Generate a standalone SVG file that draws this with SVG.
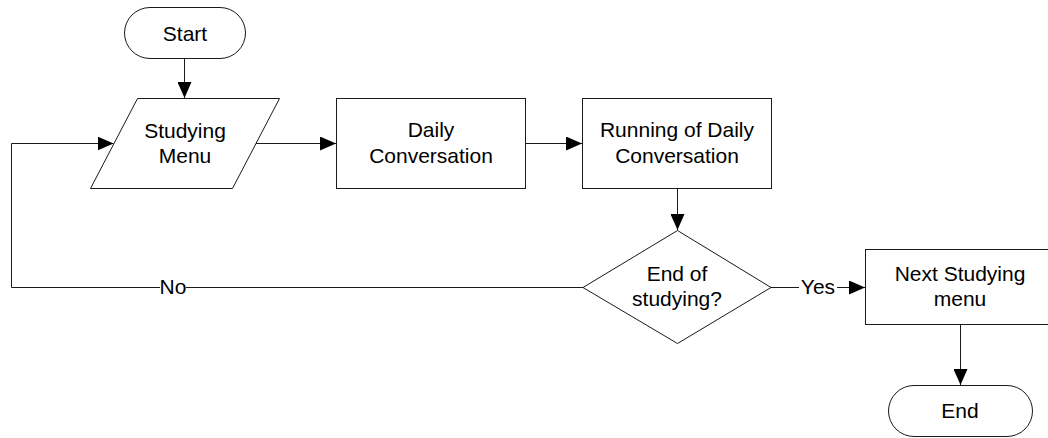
<svg xmlns="http://www.w3.org/2000/svg" width="1048" height="438" viewBox="0 0 1048 438">
  <style>
    .shape { fill: #ffffff; stroke: #1a1a1a; stroke-width: 1; }
    .conn { fill: none; stroke: #1a1a1a; stroke-width: 1; }
    .label { font-family: "Liberation Sans", Arial, sans-serif; font-size: 21px; fill: #000000; text-anchor: middle; }
  </style>
  <defs>
    <marker id="arrow" markerUnits="userSpaceOnUse" markerWidth="16" markerHeight="14" refX="16" refY="7" orient="auto">
      <path d="M0,0 L16,7 L0,14 Z" fill="#000000"/>
    </marker>
  </defs>
  <rect width="1048" height="438" fill="#ffffff"/>

  <!-- connectors -->
  <g id="connectors">
    <path class="conn" d="M184.5,58.5 V98" marker-end="url(#arrow)"/>
    <path class="conn" d="M255.5,143.5 H336" marker-end="url(#arrow)"/>
    <path class="conn" d="M525.5,143.5 H582" marker-end="url(#arrow)"/>
    <path class="conn" d="M677.5,188.5 V230" marker-end="url(#arrow)"/>
    <path class="conn" d="M771,287.5 H865" marker-end="url(#arrow)"/>
    <path class="conn" d="M583,287.5 H11.5 V143.5 H113.5" marker-end="url(#arrow)"/>
    <path class="conn" d="M960.5,324.5 V385" marker-end="url(#arrow)"/>
    <!-- edge labels -->
    <rect x="160" y="276" width="26" height="22" fill="#ffffff"/>
    <text class="label" x="173" y="294">No</text>
    <rect x="799" y="276" width="38" height="22" fill="#ffffff"/>
    <text class="label" x="818" y="294">Yes</text>
  </g>

  <g id="start">
    <rect class="shape" x="124.5" y="7.5" width="121" height="51" rx="25.5" ry="25.5"/>
    <text class="label" x="185" y="41">Start</text>
  </g>

  <g id="studying-menu">
    <polygon class="shape" points="137.5,98.5 279.5,98.5 232.5,188.5 90.5,188.5"/>
    <text class="label" x="185" y="138">Studying</text>
    <text class="label" x="185" y="163">Menu</text>
  </g>

  <g id="daily-conversation">
    <rect class="shape" x="336.5" y="98.5" width="189" height="90"/>
    <text class="label" x="431" y="137">Daily</text>
    <text class="label" x="431" y="162.5">Conversation</text>
  </g>

  <g id="running-daily-conversation">
    <rect class="shape" x="582.5" y="98.5" width="189" height="90"/>
    <text class="label" x="677" y="137">Running of Daily</text>
    <text class="label" x="677" y="162.5">Conversation</text>
  </g>

  <g id="end-of-studying">
    <polygon class="shape" points="677.5,230.5 771,287.5 677.5,343.5 583,287.5"/>
    <text class="label" x="677" y="281">End of</text>
    <text class="label" x="677" y="306">studying?</text>
  </g>

  <g id="next-studying-menu">
    <rect class="shape" x="865.5" y="249.5" width="190" height="75"/>
    <text class="label" x="960" y="281">Next Studying</text>
    <text class="label" x="960" y="306">menu</text>
  </g>

  <g id="end">
    <rect class="shape" x="888.5" y="385.5" width="144" height="51" rx="25.5" ry="25.5"/>
    <text class="label" x="960" y="418">End</text>
  </g>
</svg>
